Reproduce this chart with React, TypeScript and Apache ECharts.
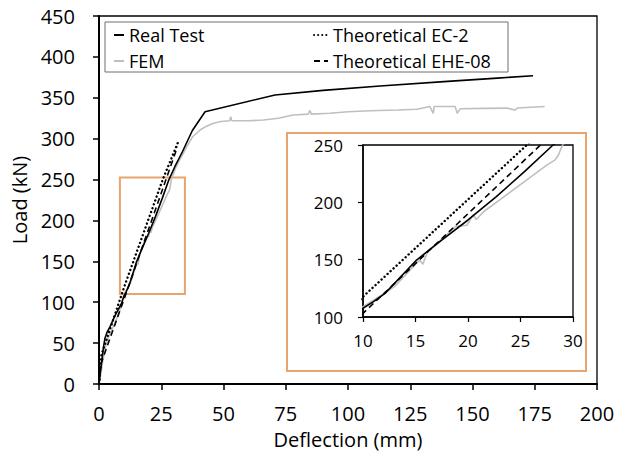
import React, { useEffect, useRef } from "react";
import * as echarts from "echarts";

// ---- Data ----
const realTest: number[][] = [
  [0, 0], [0.5, 14], [1.1, 28], [1.8, 45], [2.4, 56], [3.2, 63], [4.4, 70], [6.5, 84],
  [9.1, 99], [10, 107.6], [11, 113.4], [12.1, 120.6], [15.1, 149.7], [17.5, 167],
  [20, 184.6], [22.7, 205], [25.4, 227], [28.1, 250], [30.5, 266], [33.5, 284],
  [37.5, 310], [42.6, 333], [70.7, 353.4], [90, 359], [112.9, 364.4], [140, 370],
  [160, 374], [174.3, 377],
];

const fem: number[][] = [
  [0, 0], [0.8, 14], [1.5, 28], [2.5, 44], [3.5, 55], [5, 65], [7, 79], [9, 96],
  [10, 109], [10.7, 113], [13, 126.5], [15, 146], [15.4, 149.7], [15.7, 146],
  [16.2, 158], [17.5, 168], [18.6, 177], [18.8, 179], [19.9, 180], [20.5, 189],
  [20.8, 185], [21.5, 192], [23, 202], [25.6, 219.5], [27.5, 232.5], [28.3, 237],
  [28.6, 241], [29, 250], [30.5, 262], [32, 272], [33.5, 280], [35.2, 290],
  [37.5, 302], [40.6, 310.6], [43, 315], [45.9, 318.8], [49, 321], [52.5, 322],
  [52.9, 327], [53.3, 322], [60, 322], [66, 322.8], [72, 325], [78, 329], [84, 330],
  [84.7, 334.5], [85.3, 330], [92.8, 331], [100, 333], [108.8, 334.2], [120, 335],
  [127.6, 336], [132.9, 339.3], [134.2, 331], [134.6, 339.3], [143, 339.3],
  [143.9, 331], [145, 336.5], [155, 337], [163.8, 337.4], [167, 335], [168, 337.5],
  [179, 339.3],
];

const theoreticalEC2: number[][] = [
  [0, 0], [1, 36], [10, 117.7], [25.6, 250], [31.8, 296],
];

const theoreticalEHE08: number[][] = [
  [0, 0], [0.8, 25], [10, 103.2], [26.9, 250], [31.5, 290],
];

// zoomed region marked on the main chart
const zoomRegionX: number[] = [8.4, 34.5];
const zoomRegionY: number[] = [110, 252.5];

const seriesNames = ["Real Test", "FEM", "Theoretical EC-2", "Theoretical EHE-08"];

const FONT = "Open Sans";
const ORANGE = "#E9A46C";

export default function App() {
  const ref = useRef<HTMLDivElement>(null);

  useEffect(() => {
    if (!ref.current) return;
    const chart = echarts.init(ref.current, null, { renderer: "svg" });

    const styles: Record<string, any> = {
      "Real Test": { color: "#000000", width: 1.6, type: "solid" },
      FEM: { color: "#BFBFBF", width: 1.6, type: "solid" },
      "Theoretical EC-2": { color: "#000000", width: 2.4, type: [0.1, 4], cap: "round" },
      "Theoretical EHE-08": { color: "#000000", width: 1.6, type: [6, 4] },
    };
    const dataMap: Record<string, number[][]> = {
      "Real Test": realTest,
      FEM: fem,
      "Theoretical EC-2": theoreticalEC2,
      "Theoretical EHE-08": theoreticalEHE08,
    };
    const drawOrder = ["FEM", "Real Test", "Theoretical EC-2", "Theoretical EHE-08"];

    const mkSeries = (name: string, idx: number) => ({
      name,
      type: "line",
      xAxisIndex: idx,
      yAxisIndex: idx,
      data: dataMap[name],
      showSymbol: false,
      symbol: "none",
      clip: true,
      lineStyle: { ...styles[name] },
      itemStyle: { color: styles[name].color },
      z: name === "FEM" ? 2 : 3,
    });

    const series: any[] = [];
    drawOrder.forEach((n) => series.push(mkSeries(n, 0)));
    drawOrder.forEach((n) => series.push(mkSeries(n, 1)));
    // zoom region rectangle
    series.push({
      type: "line",
      xAxisIndex: 0,
      yAxisIndex: 0,
      data: [],
      markArea: {
        silent: true,
        itemStyle: { color: "rgba(0,0,0,0)", borderColor: ORANGE, borderWidth: 2 },
        data: [[{ coord: [zoomRegionX[0], zoomRegionY[1]] }, { coord: [zoomRegionX[1], zoomRegionY[0]] }]],
      },
    });

    const axisLabelMain = { color: "#000", fontSize: 20, fontFamily: FONT };
    const axisLabelInset = { color: "#000", fontSize: 17, fontFamily: FONT };
    const legendText = { fontSize: 18, fontFamily: FONT, color: "#000", lineHeight: 20 };
    const hiddenSymbol = { color: "rgba(0,0,0,0)", borderWidth: 0, borderColor: "rgba(0,0,0,0)" };

    chart.setOption({
      animation: false,
      backgroundColor: "#ffffff",
      textStyle: { fontFamily: FONT },
      grid: [
        { left: 99, top: 16, right: 22, bottom: 70, show: true, borderColor: "#000", borderWidth: 1.3, backgroundColor: "transparent" },
        { left: 363, top: 145, right: 46, bottom: 137, show: true, borderColor: "#000", borderWidth: 1.3, backgroundColor: "transparent" },
      ],
      legend: [
        {
          data: seriesNames.slice(0, 2),
          orient: "vertical",
          left: 108,
          top: 20,
          padding: 5,
          itemWidth: 10,
          itemHeight: 10,
          itemGap: 6,
          itemStyle: hiddenSymbol,
          textStyle: legendText,
        },
        {
          data: seriesNames.slice(2),
          orient: "vertical",
          left: 308,
          top: 20,
          padding: 5,
          itemWidth: 14,
          itemHeight: 10,
          itemGap: 6,
          itemStyle: hiddenSymbol,
          textStyle: legendText,
        },
      ],
      xAxis: [
        {
          type: "value",
          gridIndex: 0,
          min: 0,
          max: 200,
          interval: 25,
          name: "Deflection (mm)",
          nameLocation: "middle",
          nameGap: 45,
          nameTextStyle: { fontSize: 20, fontFamily: FONT, color: "#000" },
          axisLine: { lineStyle: { color: "#000", width: 2 } },
          axisTick: { show: true, inside: false, length: 6, lineStyle: { color: "#000", width: 1.5 } },
          axisLabel: { ...axisLabelMain, margin: 19 },
          splitLine: { show: false },
        },
        {
          type: "value",
          gridIndex: 1,
          min: 10,
          max: 30,
          interval: 5,
          axisLine: { lineStyle: { color: "#000", width: 1.5 } },
          axisTick: { show: true, inside: false, length: 5, lineStyle: { color: "#000", width: 1.2 } },
          axisLabel: { ...axisLabelInset, margin: 15 },
          splitLine: { show: false },
        },
      ],
      yAxis: [
        {
          type: "value",
          gridIndex: 0,
          min: 0,
          max: 450,
          interval: 50,
          name: "Load (kN)",
          nameLocation: "middle",
          nameGap: 64,
          nameTextStyle: { fontSize: 20, fontFamily: FONT, color: "#000" },
          axisLine: { show: true, lineStyle: { color: "#000", width: 2 } },
          axisTick: { show: true, inside: false, length: 6, lineStyle: { color: "#000", width: 1.5 } },
          axisLabel: { ...axisLabelMain, margin: 24 },
          splitLine: { show: false },
        },
        {
          type: "value",
          gridIndex: 1,
          min: 100,
          max: 250,
          interval: 50,
          axisLine: { show: true, lineStyle: { color: "#000", width: 1.5 } },
          axisTick: { show: true, inside: false, length: 5, lineStyle: { color: "#000", width: 1.2 } },
          axisLabel: { ...axisLabelInset, margin: 20 },
          splitLine: { show: false },
        },
      ],
      graphic: [
        {
          type: "rect",
          z: 1,
          shape: { x: 105, y: 22, width: 403, height: 50 },
          style: { fill: "#ffffff", stroke: "#6e6e6e", lineWidth: 1 },
        },
        {
          type: "rect",
          z: 1,
          shape: { x: 287, y: 133, width: 299, height: 238 },
          style: { fill: "rgba(255,255,255,0)", stroke: ORANGE, lineWidth: 2 },
        },
      ],
      series,
    });

    return () => chart.dispose();
  }, []);

  return <div ref={ref} style={{ width: 619, height: 454, position: "absolute", left: 0, top: 0 }} />;
}
